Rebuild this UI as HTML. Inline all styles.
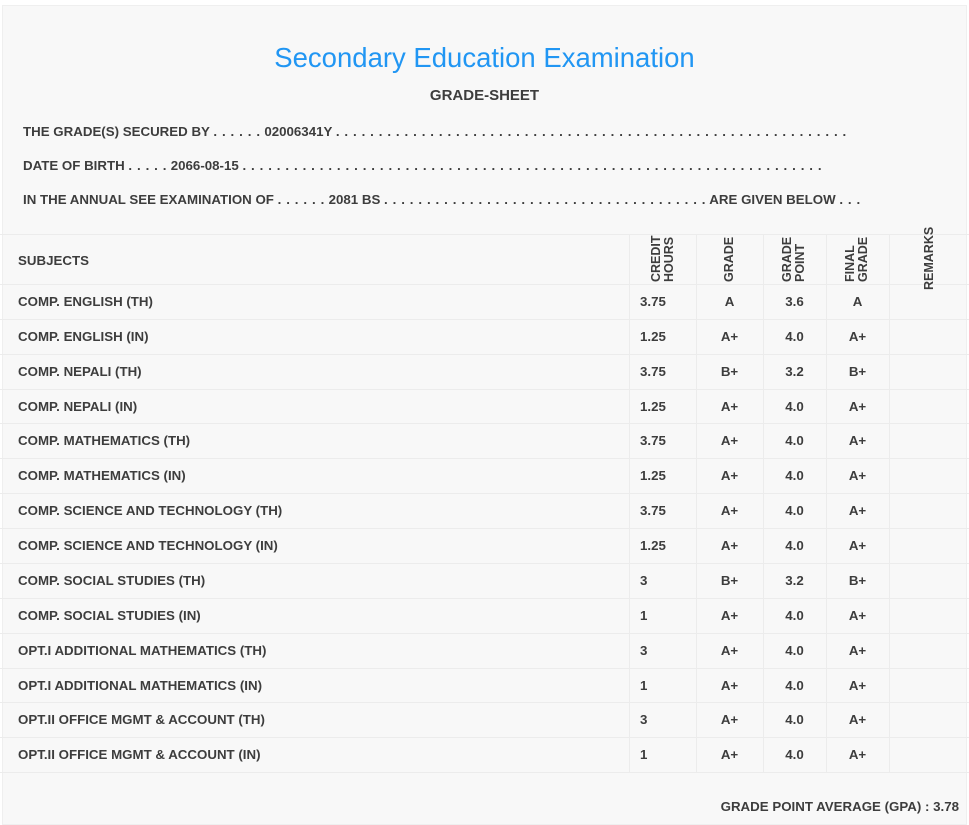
<!DOCTYPE html>
<html><head><meta charset="utf-8"><style>
*{margin:0;padding:0;box-sizing:border-box}
body{width:969px;height:820px;background:#fff;font-family:"Liberation Sans","DejaVu Sans",sans-serif;color:#3d3d3d;position:relative;overflow:hidden}
.card{position:absolute;left:2px;top:5px;width:965px;height:820px;background:#f8f8f8;border:1px solid #efefef}
.t{position:absolute;white-space:nowrap;font-weight:bold;font-size:13.3px}
.d{letter-spacing:0.6px}
.title{position:absolute;left:0;width:969px;top:42px;text-align:center;font-size:27.5px;color:#2196f3;font-weight:normal}
.hl{position:absolute;left:0;width:969px;height:1px;background:#ececec}
.vl{position:absolute;width:1px;background:#ececec;top:234px;height:538px}
.c{position:absolute;text-align:center;font-weight:bold;font-size:13.3px;white-space:nowrap}
.v{position:absolute;z-index:5;writing-mode:vertical-rl;transform:rotate(180deg);font-weight:bold;font-size:12.5px;line-height:13px;text-align:left;white-space:nowrap;overflow:visible}
</style></head><body>
<div class="card"></div>
<div class="title">Secondary Education Examination</div>
<div class="t" style="left:0;width:969px;text-align:center;top:87px;font-size:15px">GRADE-SHEET</div>
<div class="t" style="left:23px;top:124px">THE GRADE(S) SECURED BY <span class="d">. . . . . .</span> 02006341Y <span class="d">. . . . . . . . . . . . . . . . . . . . . . . . . . . . . . . . . . . . . . . . . . . . . . . . . . . . . . . . . . . .</span></div>
<div class="t" style="left:23px;top:158px">DATE OF BIRTH <span class="d">. . . . .</span> 2066-08-15 <span class="d">. . . . . . . . . . . . . . . . . . . . . . . . . . . . . . . . . . . . . . . . . . . . . . . . . . . . . . . . . . . . . . . . . . . .</span></div>
<div class="t" style="left:23px;top:192px">IN THE ANNUAL SEE EXAMINATION OF <span class="d">. . . . . .</span> 2081 BS <span class="d">. . . . . . . . . . . . . . . . . . . . . . . . . . . . . . . . . . . . . .</span> ARE GIVEN BELOW <span class="d">. . .</span></div>
<div class="hl" style="top:234px"></div>
<div class="vl" style="left:629px"></div><div class="vl" style="left:696px"></div><div class="vl" style="left:763px"></div><div class="vl" style="left:826px"></div><div class="vl" style="left:889px"></div>
<div class="t" style="left:18px;top:253px">SUBJECTS</div>
<div id="rows"></div>
<div class="v" style="left:650px;top:234px;height:48px">CREDIT<br>HOURS</div>
<div class="v" style="left:723px;top:234px;height:48px">GRADE</div>
<div class="v" style="left:781px;top:234px;height:48px">GRADE<br>POINT</div>
<div class="v" style="left:844px;top:234px;height:48px">FINAL<br>GRADE</div>
<div class="v" style="left:923px;top:226px;height:64px">REMARKS</div>
<div class="t" style="right:10px;top:799px">GRADE POINT AVERAGE (GPA) : 3.78</div>
<script>
var d=[["COMP. ENGLISH (TH)","3.75","A","3.6","A"],["COMP. ENGLISH (IN)","1.25","A+","4.0","A+"],["COMP. NEPALI (TH)","3.75","B+","3.2","B+"],["COMP. NEPALI (IN)","1.25","A+","4.0","A+"],["COMP. MATHEMATICS (TH)","3.75","A+","4.0","A+"],["COMP. MATHEMATICS (IN)","1.25","A+","4.0","A+"],["COMP. SCIENCE AND TECHNOLOGY (TH)","3.75","A+","4.0","A+"],["COMP. SCIENCE AND TECHNOLOGY (IN)","1.25","A+","4.0","A+"],["COMP. SOCIAL STUDIES (TH)","3","B+","3.2","B+"],["COMP. SOCIAL STUDIES (IN)","1","A+","4.0","A+"],["OPT.I ADDITIONAL MATHEMATICS (TH)","3","A+","4.0","A+"],["OPT.I ADDITIONAL MATHEMATICS (IN)","1","A+","4.0","A+"],["OPT.II OFFICE MGMT & ACCOUNT (TH)","3","A+","4.0","A+"],["OPT.II OFFICE MGMT & ACCOUNT (IN)","1","A+","4.0","A+"]];
var h="";
for(var i=0;i<=14;i++){h+='<div class="hl" style="top:'+(284+i*34.86).toFixed(1)+'px"></div>';}
d.forEach(function(r,i){var y=(284+i*34.86+10).toFixed(1);
h+='<div class="t" style="left:18px;top:'+y+'px">'+r[0].replace('&','&amp;')+'</div>';
h+='<div class="t" style="left:640px;top:'+y+'px">'+r[1]+'</div>';
h+='<div class="c" style="left:696px;width:67px;top:'+y+'px">'+r[2]+'</div>';
h+='<div class="c" style="left:763px;width:63px;top:'+y+'px">'+r[3]+'</div>';
h+='<div class="c" style="left:826px;width:63px;top:'+y+'px">'+r[4]+'</div>';});
document.getElementById("rows").innerHTML=h;
</script>
</body></html>
